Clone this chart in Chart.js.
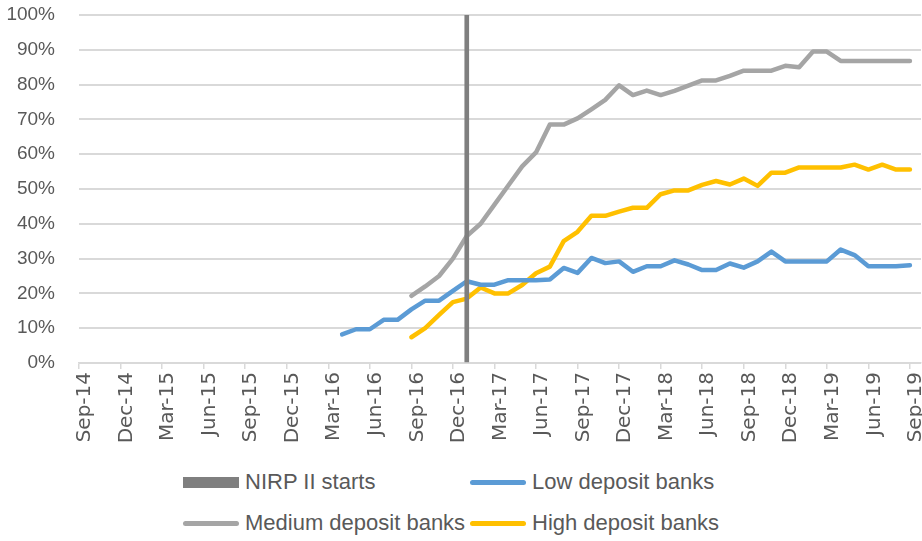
<!DOCTYPE html>
<html>
<head>
<meta charset="utf-8">
<title>Deposit banks</title>
<script src="https://cdn.jsdelivr.net/npm/chart.js@4.4.0/dist/chart.umd.min.js"></script>
<style>
  html, body { margin: 0; padding: 0; background: #fff; }
  #wrap { position: relative; width: 922px; height: 541px; overflow: hidden; }
  #chartBox { position: absolute; left: 0; top: 0; width: 922px; height: 455px; }
  #legend {
    position: absolute; left: 183px; top: 470px;
    display: grid; grid-template-columns: 287px 262px; row-gap: 17px;
    font: 22px "Liberation Sans", Arial, sans-serif; color: #595959;
  }
  .item { display: flex; align-items: center; height: 24px; white-space: nowrap; }
  .sym { display: inline-block; width: 56px; margin-right: 6px; }
</style>
</head>
<body>
<div id="wrap">
  <div id="chartBox"><canvas id="chart"></canvas></div>
  <div id="legend"></div>
</div>
<script>
// monthly categories, Sep-14 .. Sep-19
const months = [
  'Sep-14', 'Oct-14', 'Nov-14', 'Dec-14',
  'Jan-15', 'Feb-15', 'Mar-15', 'Apr-15', 'May-15', 'Jun-15', 'Jul-15', 'Aug-15', 'Sep-15', 'Oct-15', 'Nov-15', 'Dec-15',
  'Jan-16', 'Feb-16', 'Mar-16', 'Apr-16', 'May-16', 'Jun-16', 'Jul-16', 'Aug-16', 'Sep-16', 'Oct-16', 'Nov-16', 'Dec-16',
  'Jan-17', 'Feb-17', 'Mar-17', 'Apr-17', 'May-17', 'Jun-17', 'Jul-17', 'Aug-17', 'Sep-17', 'Oct-17', 'Nov-17', 'Dec-17',
  'Jan-18', 'Feb-18', 'Mar-18', 'Apr-18', 'May-18', 'Jun-18', 'Jul-18', 'Aug-18', 'Sep-18', 'Oct-18', 'Nov-18', 'Dec-18',
  'Jan-19', 'Feb-19', 'Mar-19', 'Apr-19', 'May-19', 'Jun-19', 'Jul-19', 'Aug-19', 'Sep-19'
];
const tickEvery = 3; // label every 3rd month

// NIRP II marker
const nirpMonth = 'Jan-17';
const nirpValue = 100;

// share of banks, % (first month of each series below)
const lowStart = 'Apr-16';
const lowDeposit = [
  8.2, 9.7, 9.7, 12.4, 12.4, 15.4, 17.9, 17.9, 20.7, 23.5,
  22.5, 22.5, 23.8, 23.8, 23.8, 24, 27.3, 25.9, 30.2, 28.7,
  29.2, 26.2, 27.8, 27.8, 29.5, 28.3, 26.7, 26.7, 28.6, 27.4,
  29.2, 32, 29.2, 29.2, 29.2, 29.2, 32.6, 31, 27.8, 27.8,
  27.8, 28.1
];

const mediumStart = 'Sep-16';
const mediumDeposit = [
  19.3, 22, 25, 30, 36.5, 40, 45.5, 51, 56.5, 60.5,
  68.5, 68.5, 70.3, 72.9, 75.6, 79.8, 77, 78.3, 77, 78.2,
  79.7, 81.2, 81.2, 82.5, 84, 84, 84, 85.4, 85, 89.5,
  89.5, 86.8, 86.8, 86.8, 86.8, 86.8, 86.8
];

const highStart = 'Sep-16';
const highDeposit = [
  7.4, 10, 13.8, 17.5, 18.5, 21.7, 20, 20, 22.4, 25.8,
  27.7, 35, 37.7, 42.3, 42.3, 43.5, 44.6, 44.6, 48.5, 49.6,
  49.6, 51.2, 52.3, 51.3, 53, 50.9, 54.7, 54.7, 56.2, 56.2,
  56.2, 56.2, 57, 55.6, 57, 55.6, 55.6
];

const toPoints = (start, vals) => {
  const s = months.indexOf(start);
  return vals.map((v, i) => ({ x: s + i, y: v }));
};

// builds the 2-column legend under the chart
const htmlLegend = {
  id: 'htmlLegend',
  afterUpdate(chart) {
    const box = document.getElementById('legend');
    box.innerHTML = '';
    chart.data.datasets.forEach(ds => {
      const item = document.createElement('div');
      item.className = 'item';
      const sym = document.createElement('span');
      sym.className = 'sym';
      if (ds.type === 'bar') {
        sym.style.height = '11px';
        sym.style.background = ds.backgroundColor;
      } else {
        sym.style.height = '5px';
        sym.style.borderRadius = '3px';
        sym.style.background = ds.borderColor;
      }
      const txt = document.createElement('span');
      txt.textContent = ds.label;
      item.append(sym, txt);
      box.append(item);
    });
  }
};

const lineStyle = {
  borderWidth: 4.5,
  borderCapStyle: 'round',
  borderJoinStyle: 'round',
  pointRadius: 0,
  tension: 0,
  fill: false
};

new Chart(document.getElementById('chart'), {
  type: 'line',
  data: {
    datasets: [
      {
        type: 'bar',
        label: 'NIRP II starts',
        data: [{ x: months.indexOf(nirpMonth), y: nirpValue }],
        backgroundColor: '#7f7f7f',
        barThickness: 4
      },
      { label: 'Low deposit banks', data: toPoints(lowStart, lowDeposit), borderColor: '#5b9bd5', ...lineStyle },
      { label: 'Medium deposit banks', data: toPoints(mediumStart, mediumDeposit), borderColor: '#a5a5a5', ...lineStyle },
      { label: 'High deposit banks', data: toPoints(highStart, highDeposit), borderColor: '#ffc000', ...lineStyle }
    ]
  },
  options: {
    responsive: true,
    maintainAspectRatio: false,
    animation: false,
    layout: { padding: { top: 15, right: 1, left: 0, bottom: 0 } },
    plugins: {
      legend: { display: false },
      tooltip: { enabled: false }
    },
    scales: {
      x: {
        type: 'linear',
        offset: false,
        min: 0,
        max: 60.8,
        ticks: {
          autoSkip: false,
          minRotation: 90,
          maxRotation: 90,
          padding: 3,
          labelOffset: 6,
          color: '#595959',
          font: { family: 'DejaVu Sans', size: 20 },
          callback: v => months[v]
        },
        grid: { offset: false, drawOnChartArea: false, color: '#d9d9d9', lineWidth: 1.5, tickLength: 6 },
        border: { color: '#d9d9d9', width: 1.5 },
        afterBuildTicks(s) {
          s.ticks = months.map((m, i) => i).filter(i => i % tickEvery === 0).map(i => ({ value: i }));
        },
        afterFit(s) { s.height = 92; s.paddingLeft = 0; s.paddingRight = 0; }
      },
      y: {
        min: 0,
        max: 100,
        ticks: {
          stepSize: 10,
          padding: 24,
          color: '#595959',
          font: { family: 'Liberation Sans', size: 19 },
          callback: v => v + '%'
        },
        grid: { color: '#d9d9d9', lineWidth: 2, drawTicks: false },
        border: { display: false },
        afterFit(s) { s.width = 79; s.paddingTop = 0; s.paddingBottom = 0; }
      }
    }
  },
  plugins: [htmlLegend]
});
</script>
</body>
</html>
